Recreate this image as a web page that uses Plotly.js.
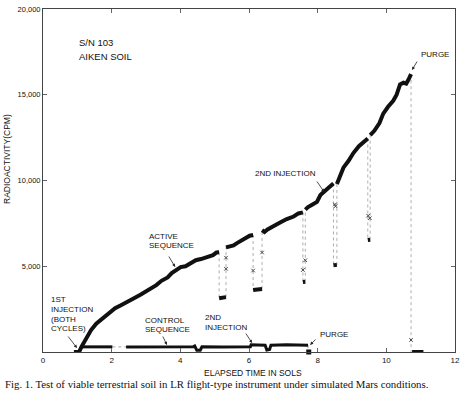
<!DOCTYPE html>
<html>
<head>
<meta charset="utf-8">
<script src="https://cdn.plot.ly/plotly-3.0.1.min.js"></script>
<style>
html,body{margin:0;padding:0;background:#fff;}
#chart{width:462px;height:399px;}
</style>
</head>
<body>
<div id="chart"></div>
<script>
// ---- data ----
var xTickVals = [0, 2, 4, 6, 8, 10, 12];
var yTickVals = [5000, 10000, 15000, 20000];
var yTickText = ['5,000', '10,000', '15,000', '20,000'];

// active sequence (thick trace, breaks where the curve drops)
var activeX = [0.90,1.05,1.12,1.25,1.40,1.55,1.77,1.95,2.10,2.27,2.45,2.65,2.85,3.00,3.14,3.30,3.45,3.63,3.75,3.92,4.01,4.15,4.30,4.45,4.60,4.70,4.80,4.95,5.05,5.13,
  null,5.13,5.22,5.33,
  null,5.33,5.45,5.55,5.65,5.80,5.92,6.02,6.12,
  null,6.12,6.25,6.38,
  null,6.38,6.45,6.54,6.70,6.92,7.10,7.30,7.44,7.57,
  null,7.57,7.64,
  null,7.64,7.72,7.85,7.98,8.08,8.18,8.30,8.46,
  null,8.46,8.56,
  null,8.56,8.65,8.75,8.90,9.04,9.20,9.35,9.46,
  null,9.46,9.53,
  null,9.53,9.65,9.80,9.91,10.05,10.20,10.30,10.40,10.50,10.58,10.65,10.72,
  null,10.75,11.08];
var activeY = [0,0,300,800,1280,1650,2030,2350,2550,2730,2950,3140,3350,3520,3720,3900,4150,4350,4600,4800,4950,5000,5200,5350,5420,5500,5520,5650,5800,5810,
  null,3140,3150,3200,
  null,6100,6150,6220,6350,6550,6650,6780,6820,
  null,3620,3650,3680,
  null,7100,7000,7150,7350,7560,7750,7900,8080,8140,
  null,4080,4100,
  null,8300,8450,8600,8750,9150,9300,9550,9830,
  null,5060,5080,
  null,9800,10200,10750,11150,11600,12000,12300,12450,
  null,6530,6550,
  null,12650,12900,13350,13900,14300,14650,15000,15600,15700,15650,15900,16200,
  null,0,0];

// thin dotted transitions (drops and recoveries)
var dropX = [5.13,5.13,null,5.33,5.33,null,6.12,6.12,null,6.38,6.38,null,7.57,7.57,null,7.64,7.64,null,8.46,8.46,null,8.56,8.56,null,9.46,9.46,null,9.53,9.53,null,10.72,10.72];
var dropY = [5810,3140,null,3200,6100,null,6820,3620,null,3680,7100,null,8140,4080,null,4100,8300,null,9830,5060,null,5080,9800,null,12450,6530,null,6550,12650,null,16200,0];

// small x marks on the transitions
var markX = [5.33,5.33,6.12,6.38,7.57,7.64,8.50,8.52,9.47,9.52,10.72];
var markY = [5500,4850,4750,5800,4780,5350,8600,8500,7950,7800,700];

// control sequence
var ctrlX = [1.12,1.50,2.02,null,2.42,3.00,3.60,4.10,4.38,4.42,4.48,4.58,4.63,5.20,5.70,6.04,6.06,6.40,6.47,6.52,6.60,6.64,7.10,7.72];
var ctrlY = [300,300,300,null,290,300,300,300,310,350,100,100,300,290,300,300,420,420,400,120,150,400,420,400];
var ctrlGapX = [2.02, 2.42];
var ctrlGapY = [300, 300];
var ctrlPurgeX = [7.72, 7.72];
var ctrlPurgeY = [400, 0];
var ctrlEndX = [7.74];
var ctrlEndY = [0];

// ---- layout helpers (pixel -> paper) ----
var L = 43, R = 455, T = 9, B = 352;
function px(x){ return (x - L) / (R - L); }
function py(y){ return (B - y) / (B - T); }

var FONT = 'Liberation Sans, Arial, sans-serif';
function label(text, x, y, size){
  return {text: text, xref: 'paper', yref: 'paper', x: px(x), y: py(y),
    xanchor: 'left', yanchor: 'middle', showarrow: false,
    font: {family: FONT, size: size || 8, color: '#111'}};
}
function arrow(tx, ty, hx, hy){
  return {text: '', xref: 'x', yref: 'y', axref: 'x', ayref: 'y',
    x: hx, y: hy, ax: tx, ay: ty, showarrow: true,
    arrowhead: 2, arrowsize: 0.8, arrowwidth: 0.8, arrowcolor: '#222'};
}

var traces = [
  {x: dropX, y: dropY, mode: 'lines', type: 'scatter', connectgaps: false,
   line: {color: '#999', width: 0.8, dash: 'dot'}, hoverinfo: 'skip', cliponaxis: false},
  {x: markX, y: markY, mode: 'markers', type: 'scatter',
   marker: {symbol: 'x-thin', size: 3.5, line: {color: '#444', width: 1}}, cliponaxis: false},
  {x: ctrlGapX, y: ctrlGapY, mode: 'lines', type: 'scatter',
   line: {color: '#aaa', width: 1, dash: 'dot'}, cliponaxis: false},
  {x: ctrlPurgeX, y: ctrlPurgeY, mode: 'lines', type: 'scatter',
   line: {color: '#888', width: 0.8, dash: 'dot'}, cliponaxis: false},
  {x: ctrlX, y: ctrlY, mode: 'lines', type: 'scatter', connectgaps: false,
   line: {color: '#111', width: 3}, cliponaxis: false},
  {x: ctrlEndX, y: ctrlEndY, mode: 'markers', type: 'scatter',
   marker: {symbol: 'square', size: 5, color: '#111'}, cliponaxis: false},
  {x: activeX, y: activeY, mode: 'lines', type: 'scatter', connectgaps: false,
   line: {color: '#111', width: 4}, cliponaxis: false}
];

var layout = {
  width: 462, height: 399,
  margin: {l: L, r: 462 - R, t: T, b: 399 - B},
  paper_bgcolor: '#fff', plot_bgcolor: '#fff',
  showlegend: false,
  xaxis: {range: [0, 12], tickvals: xTickVals, ticks: 'inside', ticklen: 4,
    tickcolor: '#666', mirror: 'ticks', showline: true, linecolor: '#444', linewidth: 1,
    showgrid: false, zeroline: false, fixedrange: true,
    tickfont: {family: FONT, size: 8, color: '#111'}},
  yaxis: {range: [0, 20000], tickvals: yTickVals, ticktext: yTickText, ticks: 'inside', ticklen: 4,
    tickcolor: '#666', mirror: 'ticks', showline: true, linecolor: '#444', linewidth: 1,
    showgrid: false, zeroline: false, fixedrange: true,
    tickfont: {family: FONT, size: 7.5, color: '#111'}},
  annotations: [
    label('S/N 103', 77, 42, 9.5),
    label('AIKEN SOIL', 77, 57, 9.5),
    label('ACTIVE', 147, 236),
    label('SEQUENCE', 147, 245),
    label('1ST', 49, 299),
    label('INJECTION', 49, 309),
    label('(BOTH', 49, 319),
    label('CYCLES)', 49, 328),
    label('CONTROL', 143, 320),
    label('SEQUENCE', 143, 329),
    label('2ND', 203, 317),
    label('INJECTION', 203, 327),
    label('PURGE', 318, 334),
    label('2ND INJECTION', 253, 173),
    label('PURGE', 419, 55),
    arrow(0.70, 991, 0.99, 233),
    arrow(3.64, 5655, 3.85, 4956),
    arrow(3.47, 991, 3.61, 408),
    arrow(5.88, 1166, 6.09, 525),
    arrow(7.98, 816, 7.78, 408),
    arrow(7.95, 10028, 8.19, 9328),
    arrow(10.92, 17024, 10.75, 16441),
    {text: 'RADIOACTIVITY(CPM)', xref: 'paper', yref: 'paper', x: px(7), y: py(159),
     xanchor: 'center', yanchor: 'middle', textangle: -90, showarrow: false,
     font: {family: FONT, size: 8.5, color: '#111'}},
    {text: 'ELAPSED TIME IN SOLS', xref: 'paper', yref: 'paper', x: px(253), y: py(373),
     xanchor: 'center', yanchor: 'middle', showarrow: false,
     font: {family: FONT, size: 8.5, color: '#111'}},
    {text: 'Fig. 1. Test of viable terrestrial soil in LR flight-type instrument under simulated Mars conditions.',
     xref: 'paper', yref: 'paper', x: px(3), y: py(384),
     xanchor: 'left', yanchor: 'middle', showarrow: false,
     font: {family: 'Liberation Serif, Times New Roman, serif', size: 10.8, color: '#111'}}
  ]
};

Plotly.newPlot('chart', traces, layout, {displayModeBar: false, staticPlot: true});
</script>
</body>
</html>
